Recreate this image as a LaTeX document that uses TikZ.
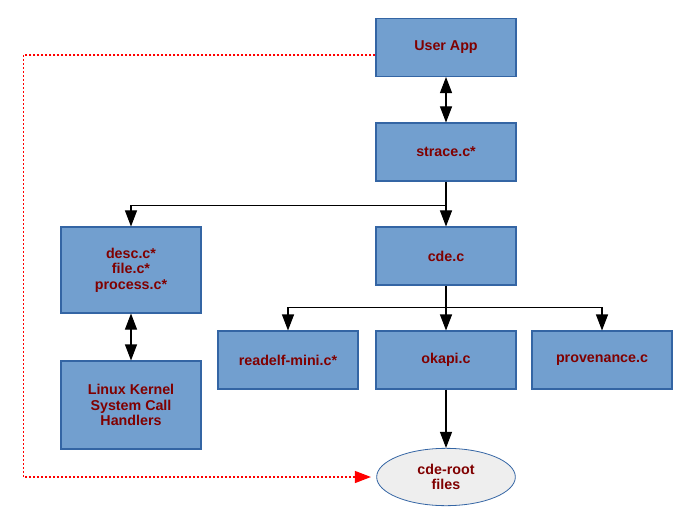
\documentclass[tikz,border=0pt]{standalone}
\usepackage{fontspec}
\setmainfont{Liberation Sans}
\usetikzlibrary{arrows.meta,shapes.geometric}
\definecolor{boxfill}{HTML}{729FCF}
\definecolor{boxline}{HTML}{3465A4}
\definecolor{labelcolor}{HTML}{800000}
\definecolor{rootfill}{HTML}{EEEEEE}
\definecolor{linkred}{HTML}{FF0000}
\tikzset{
  modbox/.style={rectangle, draw=boxline, fill=boxfill, line width=0.8pt,
    minimum width=105pt, minimum height=43.5pt, inner sep=2pt, align=center,
    font=\bfseries\fontsize{10.7}{11.5}\selectfont\color{labelcolor}},
  rootnode/.style={ellipse, draw=boxline, fill=rootfill, line width=0.6pt,
    minimum width=104pt, minimum height=43pt, inner sep=0pt, align=center,
    font=\bfseries\fontsize{10.7}{11.5}\selectfont\color{labelcolor}},
  flow/.style={line width=0.8pt, -{Triangle[length=12pt,width=9pt]}},
  twoway/.style={line width=0.8pt, {Triangle[length=12pt,width=9pt]}-{Triangle[length=12pt,width=9pt]}},
  trace/.style={draw=linkred, line width=0.9pt, dash pattern=on 1.5pt off 1.5pt,
    -{Triangle[length=12pt,width=9pt,fill=linkred]}, shorten >=4pt}
}
\begin{document}
\begin{tikzpicture}[x=0.75pt, y=-0.75pt]
  \useasboundingbox (0,0) rectangle (695,527);

  % top of the chain
  \node[modbox] (userapp) at (446,47.5) {User App};
  \node[modbox] (strace) at (446,152) {strace.c*};

  % left column
  \node[modbox, minimum height=64.5pt] (desc) at (131,270) {desc.c*\\file.c*\\process.c*};
  \node[modbox, minimum height=66pt] (kernel) at (131,405) {Linux Kernel\\System Call\\Handlers};

  % cde and its parts
  \node[modbox] (cde) at (446,256) {cde.c};
  \node[modbox] (readelf) at (288,360) {readelf-mini.c*};
  \node[modbox] (okapi) at (446,360) {okapi.c};
  \node[modbox] (prov) at (602,360) {provenance.c};

  \node[rootnode] (root) at (446,477) {cde-root\\files};

  % connectors
  \draw[twoway] (userapp) -- (strace);
  \draw[twoway] (desc) -- (kernel);

  \draw[line width=0.8pt] (strace.south) -- ++(0,24) coordinate (sfork);
  \draw[flow] (sfork) -| (desc.north);
  \draw[flow] (sfork) -- (cde.north);

  \draw[line width=0.8pt] (cde.south) -- ++(0,22) coordinate (cfork);
  \draw[flow] (cfork) -| (readelf.north);
  \draw[flow] (cfork) -- (okapi.north);
  \draw[flow] (cfork) -| (prov.north);

  \draw[flow] (okapi) -- (root);

  % file access that bypasses cde
  \draw[trace] ([yshift=-5.6pt]userapp.west) -- ++(-352,0) |- (root.west);
\end{tikzpicture}
\end{document}
